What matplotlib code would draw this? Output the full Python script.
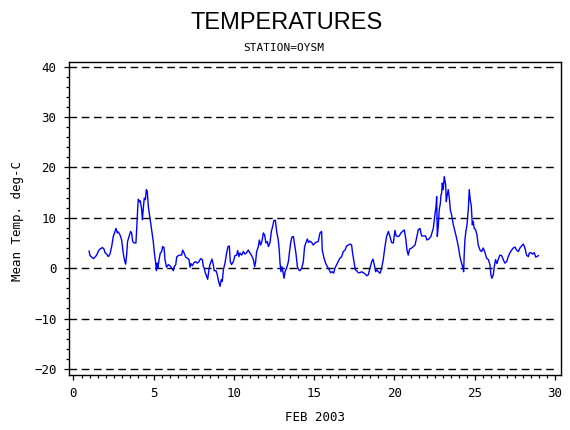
import matplotlib
matplotlib.use("Agg")
import matplotlib.pyplot as plt
from matplotlib.ticker import MultipleLocator


# Mean temperature, station OYSM, Feb 2003
days = [
    0.97, 1.03, 1.13, 1.24, 1.34, 1.44, 1.55, 1.65, 1.80, 1.90,
    1.96, 2.07, 2.17, 2.27, 2.38, 2.48, 2.59, 2.65, 2.73, 2.79,
    2.90, 3.00, 3.10, 3.17, 3.25, 3.31, 3.37, 3.46, 3.56, 3.62,
    3.69, 3.79, 3.89, 3.94, 4.00, 4.04, 4.10, 4.16, 4.25, 4.29,
    4.35, 4.41, 4.48, 4.54, 4.60, 4.66, 4.77, 4.87, 4.97, 5.04,
    5.12, 5.16, 5.22, 5.26, 5.33, 5.41, 5.49, 5.56, 5.64, 5.70,
    5.80, 5.91, 6.01, 6.12, 6.22, 6.28, 6.37, 6.43, 6.53, 6.64,
    6.74, 6.80, 6.88, 6.99, 7.09, 7.20, 7.26, 7.32, 7.40, 7.51,
    7.61, 7.72, 7.82, 7.92, 8.03, 8.09, 8.15,
    8.19, 8.30, 8.36, 8.44, 8.50, 8.57, 8.63, 8.71, 8.77, 8.88,
    8.96, 9.04, 9.13, 9.21, 9.27, 9.34, 9.44, 9.54, 9.63, 9.71,
    9.77, 9.85, 9.96, 10.06, 10.17, 10.23, 10.31, 10.37, 10.48, 10.58,
    10.69, 10.79, 10.89, 11.00, 11.10, 11.21, 11.29, 11.35, 11.41, 11.52,
    11.58, 11.66, 11.74, 11.83, 11.91, 11.99, 12.08, 12.14, 12.24, 12.33,
    12.41, 12.49, 12.58, 12.66, 12.76, 12.82, 12.87, 12.93, 12.99, 13.05,
    13.12, 13.18, 13.28, 13.39, 13.45, 13.53, 13.61, 13.70, 13.78, 13.86,
    13.95, 14.03, 14.11, 14.22, 14.32, 14.40, 14.49, 14.57, 14.65, 14.73,
    14.84, 14.94, 15.05, 15.15, 15.25,
    15.36, 15.46, 15.50, 15.61, 15.71, 15.82, 15.92, 16.02, 16.13, 16.21,
    16.29, 16.40, 16.50, 16.60, 16.71, 16.81, 16.92, 17.02, 17.12, 17.23,
    17.33, 17.39, 17.48, 17.56, 17.64, 17.75, 17.85, 17.95, 18.06, 18.16,
    18.27, 18.37, 18.47, 18.58, 18.66, 18.74, 18.83, 18.91, 18.99, 19.10,
    19.20, 19.30, 19.41, 19.51, 19.62, 19.72, 19.82, 19.93, 20.03, 20.11,
    20.20, 20.30, 20.40, 20.51, 20.61, 20.70, 20.78, 20.86, 20.94, 21.07,
    21.17, 21.28, 21.38, 21.48, 21.59, 21.69, 21.80, 21.94, 22.02, 22.15,
    22.27, 22.36, 22.42, 22.48,
    22.52, 22.59, 22.63, 22.67, 22.73, 22.79, 22.86, 22.90, 22.94, 22.98,
    23.04, 23.10, 23.19, 23.23, 23.27, 23.35, 23.42, 23.48, 23.56, 23.67,
    23.77, 23.87, 23.98, 24.08, 24.18, 24.25, 24.31, 24.35, 24.39, 24.45,
    24.52, 24.60, 24.66, 24.72, 24.79, 24.85, 24.91, 24.97, 25.06, 25.14,
    25.22, 25.33, 25.43, 25.53, 25.64, 25.74, 25.85, 25.95, 26.01, 26.07,
    26.16, 26.22, 26.30, 26.39, 26.47, 26.57, 26.68, 26.78, 26.88, 26.99,
    27.09, 27.20, 27.30, 27.40, 27.51, 27.61, 27.72, 27.82, 27.92, 28.03,
    28.13, 28.23, 28.34, 28.40, 28.50, 28.61, 28.71, 28.80, 28.88, 28.96,
]

temps = [
    3.4, 2.5, 2.2, 1.9, 2.2, 2.6, 3.4, 3.8, 4.1, 3.8,
    3.1, 2.8, 2.3, 2.8, 4.3, 6.3, 7.3, 7.9, 7.0, 7.2,
    6.6, 5.6, 3.0, 1.7, 0.8, 2.6, 5.3, 6.3, 7.3, 7.0,
    5.3, 5.0, 5.0, 7.9, 11.9, 13.7, 13.2, 13.4, 11.6, 9.6,
    11.9, 13.9, 13.6, 15.6, 15.2, 12.3, 9.9, 7.6, 5.3, 3.0,
    1.1, -0.5, 1.0, 0.0, 1.7, 3.0, 3.3, 4.3, 4.1, 1.7,
    0.2, 0.7, 0.5, 0.0, -0.5, 0.3, 0.7, 2.2, 2.5, 2.6,
    2.6, 3.6, 3.1, 2.2, 2.0, 1.7, 0.2, 0.9, 0.5, 1.1,
    1.3, 1.0, 1.3, 1.9, 1.7, 0.3, 0.0,
    -0.7, -1.7, -2.2, -0.3, 0.7, 1.3, 1.8, 0.7, -0.5, -0.5,
    -1.3, -2.6, -3.6, -2.3, -2.6, -0.3, 1.0, 3.0, 4.3, 4.4,
    1.3, 0.7, 1.3, 2.5, 2.6, 3.5, 2.3, 3.0, 2.6, 3.3,
    2.8, 3.1, 3.6, 3.0, 2.5, 1.7, 0.3, 1.3, 3.3, 4.3,
    5.6, 4.6, 5.3, 7.0, 6.6, 5.0, 5.3, 4.3, 5.0, 7.3,
    8.3, 9.5, 9.5, 7.3, 5.6, 3.6, 1.0, -0.7, 0.3, -0.7,
    -2.0, -0.7, 0.0, 1.3, 3.0, 5.0, 6.2, 6.3, 4.6, 3.0,
    0.3, -0.3, -0.5, 0.0, 1.3, 4.3, 5.1, 5.8, 5.1, 5.4,
    5.1, 4.6, 5.0, 5.2, 5.3,
    7.0, 7.3, 3.6, 2.0, 1.0, 0.3, -0.2, -0.9, -0.7, -1.0,
    0.0, 0.7, 1.3, 2.0, 2.3, 3.3, 3.6, 4.4, 4.6, 4.8,
    4.6, 3.0, 1.3, -0.3, -0.5, -0.9, -0.9, -0.7, -0.9, -1.1,
    -1.5, -1.3, 0.0, 1.3, 1.8, 0.7, -0.7, -0.3, -0.7, -1.0,
    0.0, 1.7, 4.3, 6.3, 7.3, 6.3, 5.1, 5.0, 7.5, 6.4,
    6.3, 6.4, 7.0, 7.3, 7.6, 6.0, 3.6, 2.6, 3.8, 4.0,
    4.3, 4.6, 6.0, 7.6, 7.9, 6.4, 6.4, 6.4, 5.6, 5.8,
    6.3, 7.3, 7.9, 9.6,
    10.6, 12.3, 14.2, 6.3, 8.3, 11.6, 12.9, 14.6, 14.9, 16.9,
    15.6, 18.2, 16.6, 13.2, 14.2, 15.6, 13.9, 11.6, 10.6, 8.6,
    7.3, 6.0, 4.3, 2.3, 1.0, 0.3, -0.7, 3.0, 5.6, 7.3,
    8.6, 11.6, 15.6, 13.6, 12.3, 8.6, 9.3, 7.9, 7.6, 6.6,
    4.6, 3.6, 3.3, 4.0, 3.1, 2.0, 1.7, 0.7, -1.3, -2.0,
    -1.3, 0.3, 1.7, 0.9, 1.8, 2.6, 2.5, 1.7, 1.0, 1.3,
    2.3, 3.1, 3.6, 4.0, 4.2, 3.6, 3.3, 4.0, 4.4, 4.8,
    4.0, 2.6, 2.3, 3.0, 3.1, 2.8, 3.1, 2.2, 2.3, 2.5,
]

ref_lines = [-20, -10, 0, 10, 20, 30, 40]

mono = "DejaVu Sans Mono"

fig = plt.figure(figsize=(5.7, 4.3), dpi=100)
ax = fig.add_axes([0.1205, 0.128, 0.8635, 0.7285])

ax.hlines(ref_lines, -0.3, 30, colors="black", linewidth=1.0,
          linestyles=(0, (5.5, 3.3)), zorder=1)
ax.plot(days, temps, color="#0000ff", linewidth=1.0, zorder=2)

ax.set_xlim(-0.3, 30.37)
ax.set_ylim(-21.2, 41.0)

ax.xaxis.set_major_locator(MultipleLocator(5))
ax.xaxis.set_minor_locator(MultipleLocator(0.5))
ax.yaxis.set_major_locator(MultipleLocator(10))
ax.yaxis.set_minor_locator(MultipleLocator(2))

ax.tick_params(which="major", direction="out", length=3.8, width=0.9,
               labelsize=9, pad=5)
ax.tick_params(which="minor", direction="out", length=2.2, width=0.9)
for lab in ax.get_xticklabels() + ax.get_yticklabels():
    lab.set_fontfamily(mono)

for sp in ax.spines.values():
    sp.set_linewidth(1.0)

ax.set_xlabel("FEB 2003", fontfamily=mono, fontsize=9, va="center")
ax.xaxis.set_label_coords(0.5, -0.137)
ax.set_ylabel("Mean Temp. deg-C", fontfamily=mono, fontsize=9, va="center")
ax.yaxis.set_label_coords(-0.105, 0.49)

fig.text(0.502, 1 - 23 / 430, "TEMPERATURES", ha="center", va="center",
         fontfamily="Liberation Sans", fontsize=17)
fig.text(0.498, 1 - 48 / 430, "STATION=OYSM", ha="center", va="center",
         fontfamily=mono, fontsize=8)

fig.savefig("out.png", dpi=100)
